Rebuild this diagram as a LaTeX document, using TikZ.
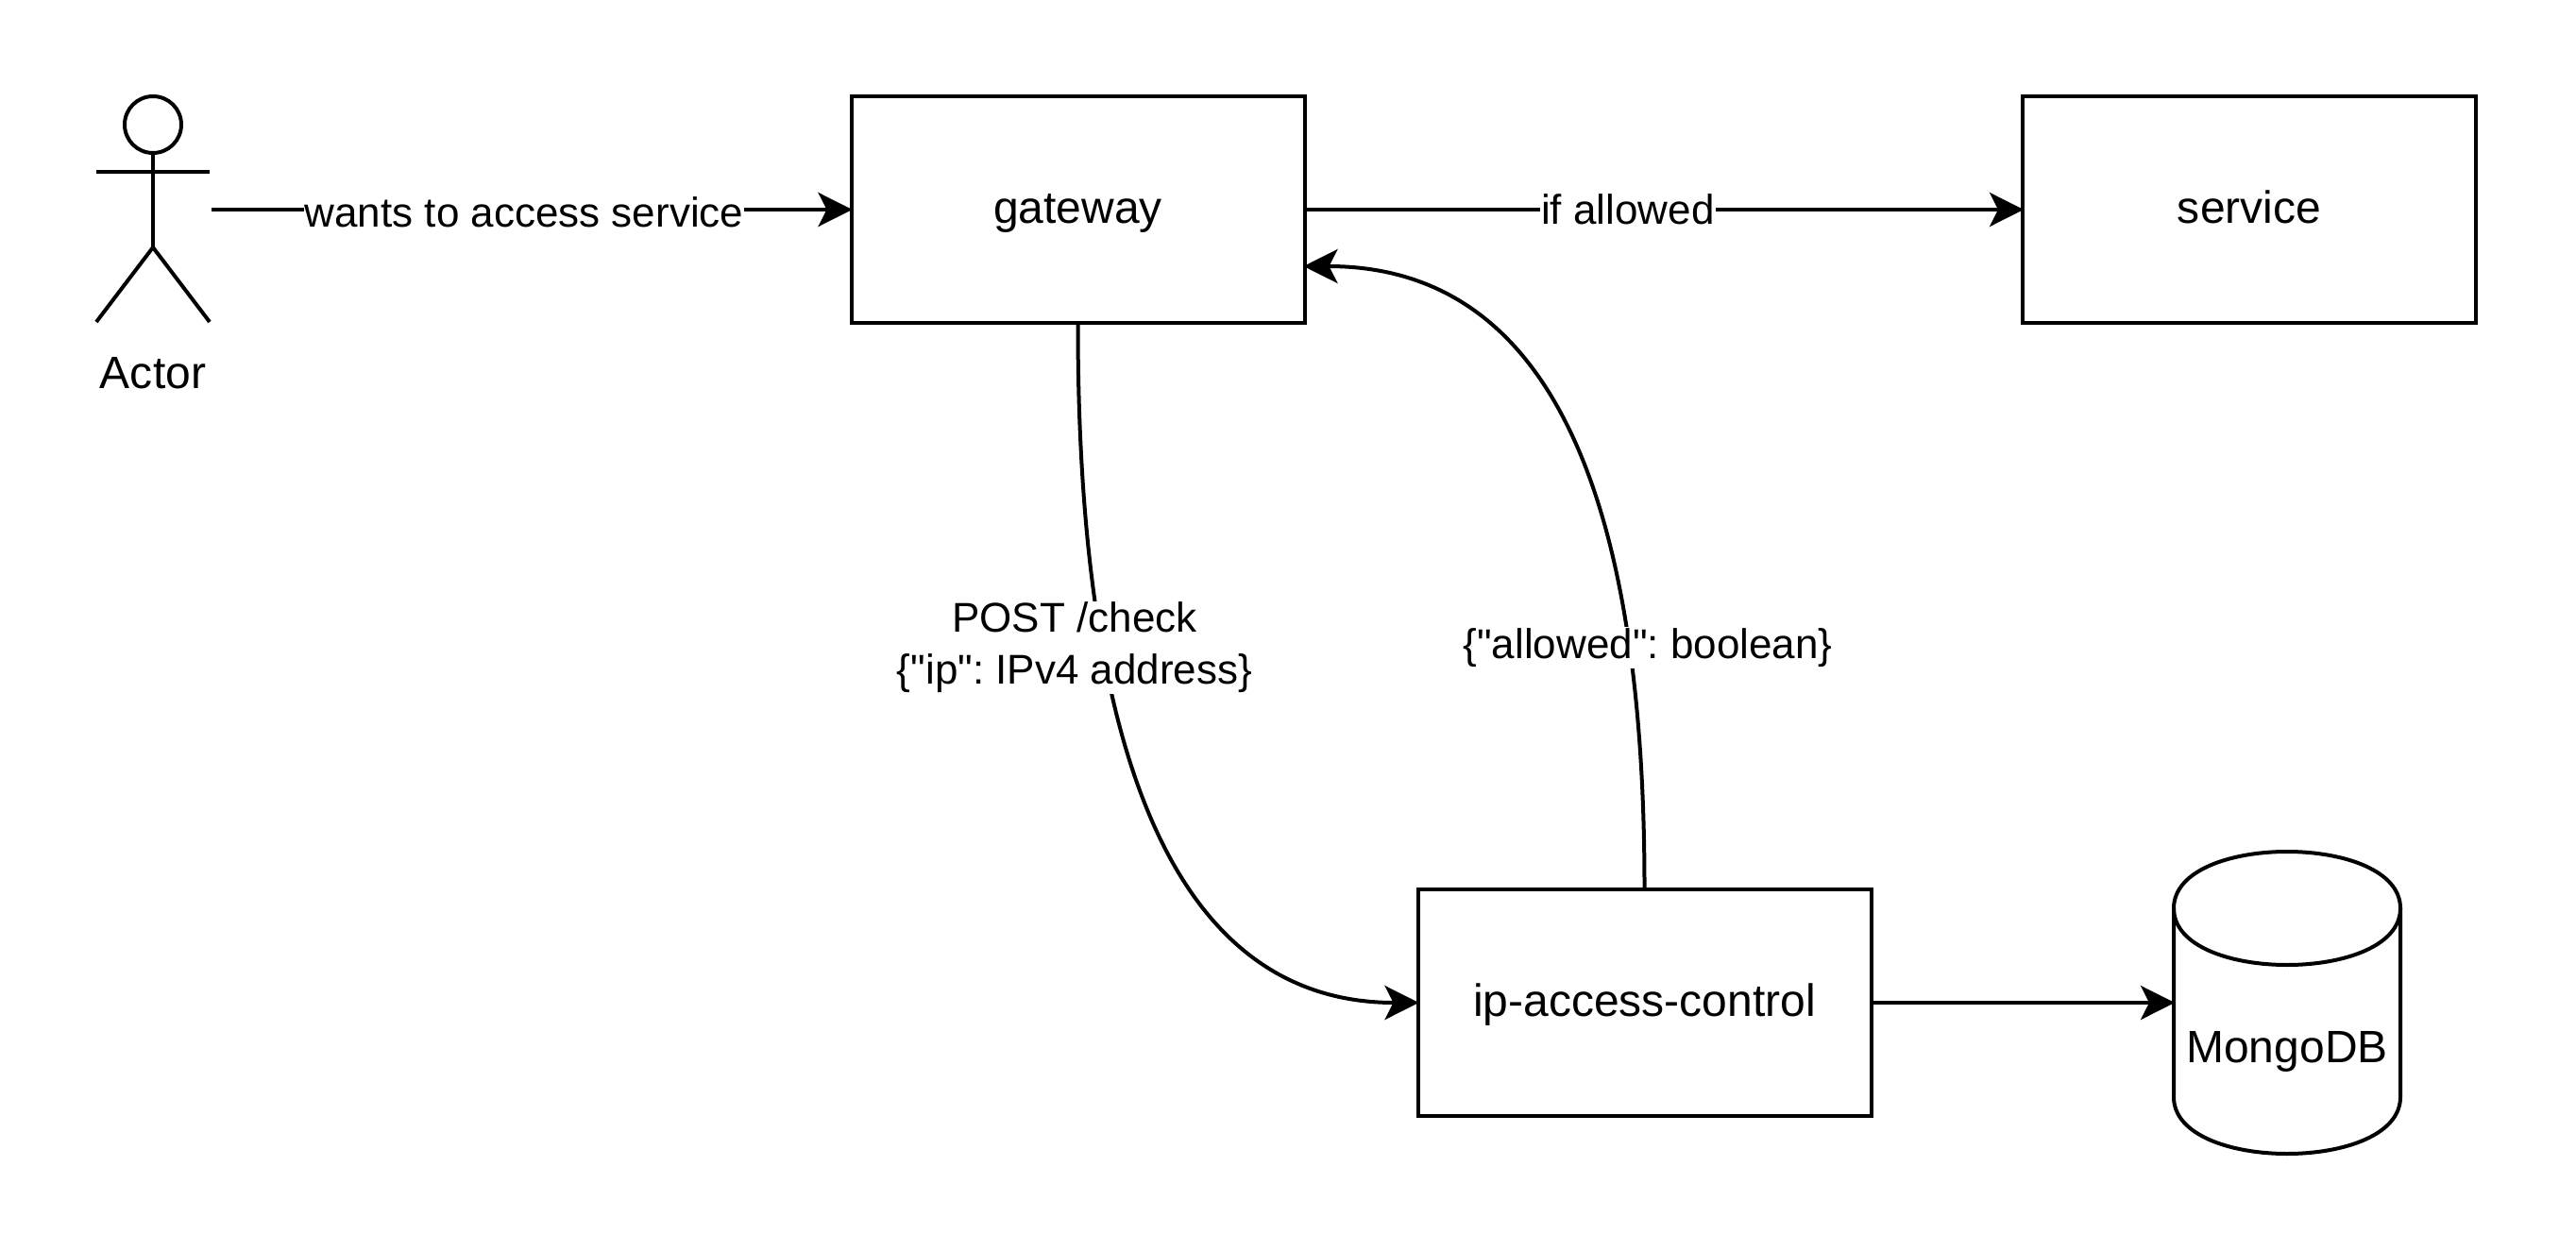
\documentclass[tikz,border=0pt]{standalone}
\usepackage{fontspec}
\newfontfamily\labelfont{Liberation Sans}
\usepackage{tikz}
\usetikzlibrary{arrows.meta,calc}

\begin{document}
\frenchspacing
\begin{tikzpicture}[
    line width=0.04cm,
    boxnode/.style={rectangle, draw, minimum width=4.8cm, minimum height=2.4cm, align=center,
                    inner sep=0pt, text height=10.8pt, text depth=2.7pt,
                    font=\labelfont\fontsize{13.66}{16}\selectfont},
    edgelabel/.style={fill=white, inner sep=0.3pt, align=center, font=\labelfont\fontsize{12.52}{15.65}\selectfont},
    conn/.style={-{Stealth[length=0.36cm,width=0.36cm,inset=0.09cm]}, shorten >=-0.03cm}
]
    \useasboundingbox (0,0) rectangle (27.28,13.24);

    \node[boxnode] (gateway) at (11.415,11.02) {gateway};
    \node[boxnode] (service) at (23.82,11.02) {service};
    \node[boxnode] (ipaccess) at (17.415,2.62) {ip-access-control};

    % cylinder
    \node[minimum width=2.4cm, minimum height=3.2cm, inner sep=0pt] (mongodb) at (24.22,2.62) {};
    \node[font=\labelfont\fontsize{13.66}{16}\selectfont] (mongolabel) at (24.22,2.1) {MongoDB};
    \draw (23.02,3.62) .. controls (23.02,4.42) and (25.42,4.42) .. (25.42,3.62)
          -- (25.42,1.62) .. controls (25.42,0.82) and (23.02,0.82) .. (23.02,1.62) -- cycle;
    \draw (23.02,3.62) .. controls (23.02,2.82) and (25.42,2.82) .. (25.42,3.62);

    % stick figure
    \node[minimum width=1.2cm, minimum height=2.4cm, inner sep=0pt] (actor) at (1.62,11.02) {};
    \node[font=\labelfont\fontsize{13.66}{16}\selectfont] (actorlabel) at (1.62,9.29) {Actor};
    \draw (1.62,11.92) circle (0.3cm);
    \draw (1.62,11.62) -- (1.62,10.62);
    \draw (1.02,11.42) -- (2.22,11.42);
    \draw (1.02,9.83) -- (1.62,10.62) -- (2.22,9.83);

    \draw[conn] (actor.east) -- node[edgelabel, pos=0.49, yshift=-0.03cm] {wants to access service} (gateway.west);
    \draw[conn] (gateway.east) -- node[edgelabel, pos=0.45] {if allowed} (service.west);
    \draw[conn] (ipaccess.east) -- (mongodb.west);

    \draw[conn] (gateway.south) .. controls (11.415,4.9) and (12.6,2.62) .. (ipaccess.west);
    \draw[conn] (ipaccess.north) .. controls (17.415,8.6) and (16.1,10.42) .. ($(gateway.east)+(0,-0.6)$);

    \node[edgelabel] (postlabel) at (11.38,6.38) {POST /check\\\{"ip": IPv4 address\}};
    \node[edgelabel] (allowedlabel) at (17.45,6.38) {\{"allowed": boolean\}};
\end{tikzpicture}
\end{document}
